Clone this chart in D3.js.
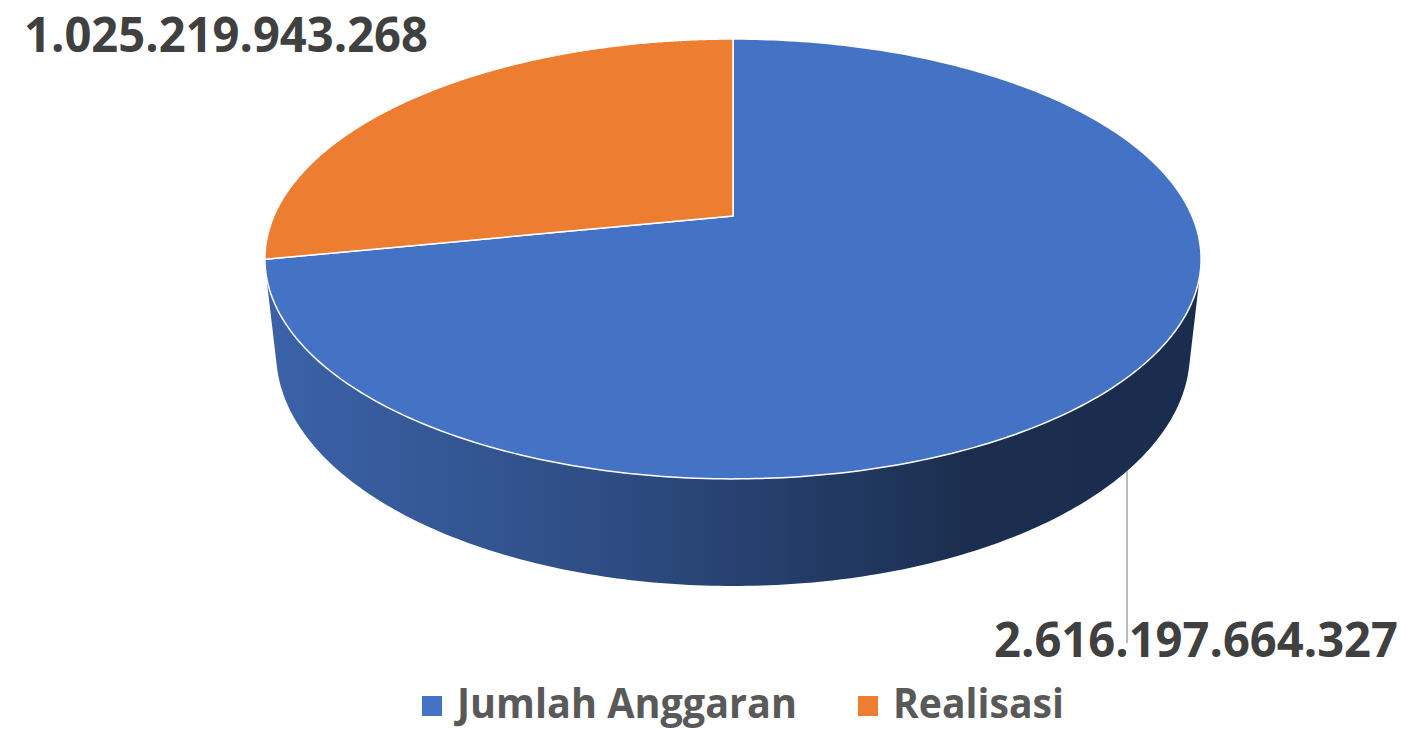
<!DOCTYPE html>
<html>
<head>
<meta charset="utf-8">
<script src="https://cdn.jsdelivr.net/npm/d3@7"></script>
<style>
  body { margin: 0; background: #fff; }
  svg { display: block; }
  text { font-family: "Open Sans", sans-serif; font-weight: 700; }
</style>
</head>
<body>
<div id="chart"></div>
<script>
// data
const categories = ["Jumlah Anggaran", "Realisasi"];
const values = [2616197664327, 1025219943268];
const valueLabels = ["2.616.197.664.327", "1.025.219.943.268"];
const colors = ["#4472C4", "#ED7D31"];

const width = 1406, height = 729;

// simple perspective camera for the 3d pie
const cx = 733, cy = 216;
const focal = 2086, dist = 4.544, elev = Math.asin(0.4608), thick = 0.233;

function project(theta, Y) {
    const X = Math.sin(theta), Z = Math.cos(theta);
    const up = Y * Math.cos(elev) + Z * Math.sin(elev);
    const dz = dist + Z * Math.cos(elev) - Y * Math.sin(elev);
    return [cx + focal * X / dz, cy - focal * up / dz];
}

function arcPoints(a0, a1, Y, n) {
    const pts = [];
    for (let i = 0; i <= n; i++) pts.push(project(a0 + (a1 - a0) * i / n, Y));
    return pts;
}

const svg = d3.select("#chart")
    .append("svg")
    .attr("width", width)
    .attr("height", height);

const defs = svg.append("defs");
const line = d3.line().curve(d3.curveLinear);

const pie = d3.pie().sort(null).startAngle(0).endAngle(2 * Math.PI);
const slices = pie(values);

// part of the outer wall that faces the camera
const visA = Math.acos(-1 / (dist * Math.cos(elev)));
const visB = 2 * Math.PI - visA;

// side walls
const sideG = svg.append("g");
slices.forEach((s, i) => {
    const a0 = Math.max(s.startAngle, visA);
    const a1 = Math.min(s.endAngle, visB);
    if (a0 >= a1) return;

    const gid = "side-" + i;
    const grad = defs.append("linearGradient")
        .attr("id", gid)
        .attr("gradientUnits", "userSpaceOnUse")
        .attr("x1", 265).attr("x2", 1201)
        .attr("y1", 0).attr("y2", 0);
    [[0, 0.42], [0.36, 1.1], [0.5, 1.55], [0.68, 2.2], [0.75, 2.55], [1, 2.6]].forEach(([o, k]) => {
        grad.append("stop")
            .attr("offset", o)
            .attr("stop-color", d3.color(colors[i]).darker(k).formatHex());
    });

    const pts = arcPoints(a0, a1, 0, 200).concat(arcPoints(a1, a0, -thick, 200));
    sideG.append("path")
        .attr("d", line(pts) + "Z")
        .attr("fill", "url(#" + gid + ")");
});

// top faces
svg.append("g")
    .selectAll("path")
    .data(slices)
    .join("path")
    .attr("d", d => line([[cx, cy]].concat(arcPoints(d.startAngle, d.endAngle, 0, 300))) + "Z")
    .attr("fill", (d, i) => colors[i])
    .attr("stroke", "#fff")
    .attr("stroke-width", 1.5)
    .attr("stroke-linejoin", "round");

// leader line for the big slice: from the bottom rim down to its label
const leadX = 1127;
let lo = visA, hi = Math.PI;
for (let k = 0; k < 40; k++) {
    const mid = (lo + hi) / 2;
    if (project(mid, -thick)[0] > leadX) lo = mid; else hi = mid;
}
const leadY = project(lo, -thick)[1];
svg.append("line")
    .attr("x1", leadX).attr("x2", leadX)
    .attr("y1", leadY).attr("y2", 643)
    .attr("stroke", "#a6a6a6")
    .attr("stroke-width", 1.5);

// data labels
const labelPos = [
    { x: 1398, y: 657, anchor: "end" },
    { x: 24, y: 52, anchor: "start" }
];
svg.append("g")
    .selectAll("text")
    .data(valueLabels)
    .join("text")
    .attr("x", (d, i) => labelPos[i].x)
    .attr("y", (d, i) => labelPos[i].y)
    .attr("text-anchor", (d, i) => labelPos[i].anchor)
    .attr("font-size", 48)
    .attr("fill", "#404040")
    .attr("textLength", 404)
    .attr("lengthAdjust", "spacingAndGlyphs")
    .text(d => d);

// legend
const legendX = [422, 858];
const legendW = [340, 171];
const legend = svg.append("g")
    .selectAll("g")
    .data(categories)
    .join("g")
    .attr("transform", (d, i) => `translate(${legendX[i]},696)`);

legend.append("rect")
    .attr("width", 20)
    .attr("height", 20)
    .attr("fill", (d, i) => colors[i]);

legend.append("text")
    .attr("x", 35)
    .attr("y", 22)
    .attr("font-size", 42)
    .attr("fill", "#595959")
    .attr("textLength", (d, i) => legendW[i])
    .attr("lengthAdjust", "spacingAndGlyphs")
    .text(d => d);
</script>
</body>
</html>
